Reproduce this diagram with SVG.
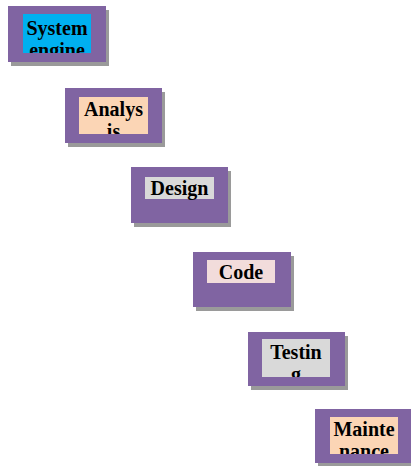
<svg xmlns="http://www.w3.org/2000/svg" width="411" height="466" viewBox="0 0 411 466">
<style>
.sh{fill:#9a9a9a}
.box{fill:#8064a2}
.t{font-family:"Liberation Serif",serif;font-weight:bold;font-size:20px;fill:#000;text-anchor:middle}
</style>
<defs>
<clipPath id="c1"><rect x="23" y="14" width="68" height="39"/></clipPath>
<clipPath id="c2"><rect x="79" y="97" width="69" height="37"/></clipPath>
<clipPath id="c5"><rect x="262" y="339" width="68" height="38"/></clipPath>
<clipPath id="c6"><rect x="330" y="417" width="68" height="37"/></clipPath>
</defs>
<rect width="411" height="466" fill="#fff"/>
<g id="n1">
<rect class="sh" x="11" y="10" width="98" height="56"/>
<rect class="box" x="8" y="6" width="98" height="56"/>
<rect x="23" y="14" width="68" height="39" fill="#00b0f0"/>
<g clip-path="url(#c1)"><text class="t" x="57" y="35">System</text><text class="t" x="57" y="57">engine</text></g>
</g>
<g id="n2">
<rect class="sh" x="68" y="92" width="97" height="55"/>
<rect class="box" x="65" y="88" width="97" height="55"/>
<rect x="79" y="97" width="69" height="37" fill="#fbd5b5"/>
<g clip-path="url(#c2)"><text class="t" x="113.5" y="116">Analys</text><text class="t" x="113.5" y="138">is</text></g>
</g>
<g id="n3">
<rect class="sh" x="134" y="171" width="97" height="56"/>
<rect class="box" x="131" y="167" width="97" height="56"/>
<rect x="145" y="177" width="69" height="22" fill="#d9d9d9"/>
<text class="t" x="179.5" y="195">Design</text>
</g>
<g id="n4">
<rect class="sh" x="196" y="256" width="98" height="55"/>
<rect class="box" x="193" y="252" width="98" height="55"/>
<rect x="207" y="260" width="68" height="23" fill="#f2dcdb"/>
<text class="t" x="241" y="279">Code</text>
</g>
<g id="n5">
<rect class="sh" x="251" y="336" width="97" height="54"/>
<rect class="box" x="248" y="332" width="97" height="54"/>
<rect x="262" y="339" width="68" height="38" fill="#d9d9d9"/>
<g clip-path="url(#c5)"><text class="t" x="296" y="359">Testin</text><text class="t" x="296" y="381">g</text></g>
</g>
<g id="n6">
<rect class="sh" x="318" y="413" width="96" height="54"/>
<rect class="box" x="315" y="409" width="96" height="54"/>
<rect x="330" y="417" width="68" height="37" fill="#fbd5b5"/>
<g clip-path="url(#c6)"><text class="t" x="364" y="436">Mainte</text><text class="t" x="364" y="458">nance</text></g>
</g>
<g id="connectors"/>
</svg>
